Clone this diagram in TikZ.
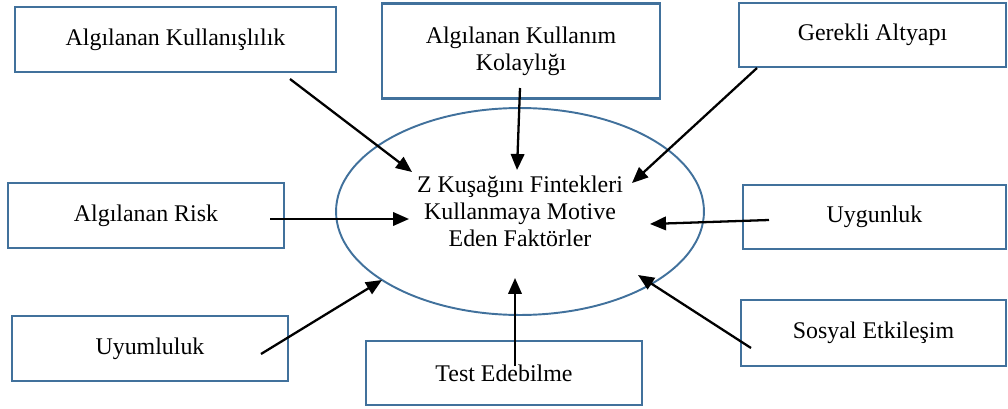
\documentclass[tikz,border=0pt]{standalone}
\usepackage{fontspec}
\setmainfont{Liberation Serif}
\usetikzlibrary{arrows.meta,shapes.geometric}
\definecolor{boxblue}{HTML}{41719C}

\begin{document}
\begin{tikzpicture}[x=0.02cm,y=-0.02cm,
    font=\fontsize{13.6}{15.4}\selectfont,
    >={Triangle[length=0.32cm,width=0.27cm]},
    factor/.style={draw=boxblue,line width=1.4pt,rectangle,inner sep=0pt,align=center},
    goal/.style={draw=boxblue,line width=1.1pt,ellipse,inner sep=0pt,align=center,
                 minimum width=7.36cm,minimum height=4.14cm},
    link/.style={line width=1.3pt,->}]
\useasboundingbox (0,0) rectangle (1008,409);
           \node[goal] (motive) at (520,211.5) {Z Kuşağını Fintekleri\\Kullanmaya Motive\\Eden Faktörler};
           \node[factor,minimum width=6.42cm,minimum height=1.30cm] (kull) at (175.5,39.5) {Algılanan Kullanışlılık};
           \node[factor,minimum width=5.56cm,minimum height=1.90cm] (kolay) at (521,51) {Algılanan Kullanım\\Kolaylığı};
           \node[factor,minimum width=5.34cm,minimum height=1.28cm] (altyapi) at (872.5,35) {Gerekli Altyapı};
           \node[factor,minimum width=5.52cm,minimum height=1.30cm] (risk) at (146,215.5) {Algılanan Risk};
           \node[factor,minimum width=5.26cm,minimum height=1.28cm] (uygun) at (874.5,217) {Uygunluk};
           \node[factor,minimum width=5.52cm,minimum height=1.30cm] (uyum) at (150,348.5) {Uyumluluk};
           \node[factor,minimum width=5.52cm,minimum height=1.28cm] (test) at (504,373) {Test Edebilme};
           \node[factor,minimum width=5.30cm,minimum height=1.32cm] (sosyal) at (873.5,333) {Sosyal Etkileşim};
           % arrow ends
           \coordinate (kull_s) at (290,79);    \coordinate (kull_t) at (412,172);
           \coordinate (kolay_s) at (520,88);   \coordinate (kolay_t) at (517,170);
           \coordinate (altyapi_s) at (757,68); \coordinate (altyapi_t) at (632,183);
           \coordinate (risk_s) at (270,219);   \coordinate (risk_t) at (409,219);
           \coordinate (uygun_s) at (769,220);  \coordinate (uygun_t) at (650,224);
           \coordinate (uyum_s) at (261,354);   \coordinate (uyum_t) at (382,280);
           \coordinate (test_s) at (515,366);   \coordinate (test_t) at (515,278);
           \coordinate (sosyal_s) at (751,348); \coordinate (sosyal_t) at (638,275);
            \path[link]
            (kull_s) edge (kull_t)
            (kolay_s) edge (kolay_t)
            (altyapi_s) edge (altyapi_t)
            (risk_s) edge (risk_t)
            (uygun_s) edge (uygun_t)
            (uyum_s) edge (uyum_t)
            (test_s) edge (test_t)
            (sosyal_s) edge (sosyal_t);
        \end{tikzpicture}
\end{document}
